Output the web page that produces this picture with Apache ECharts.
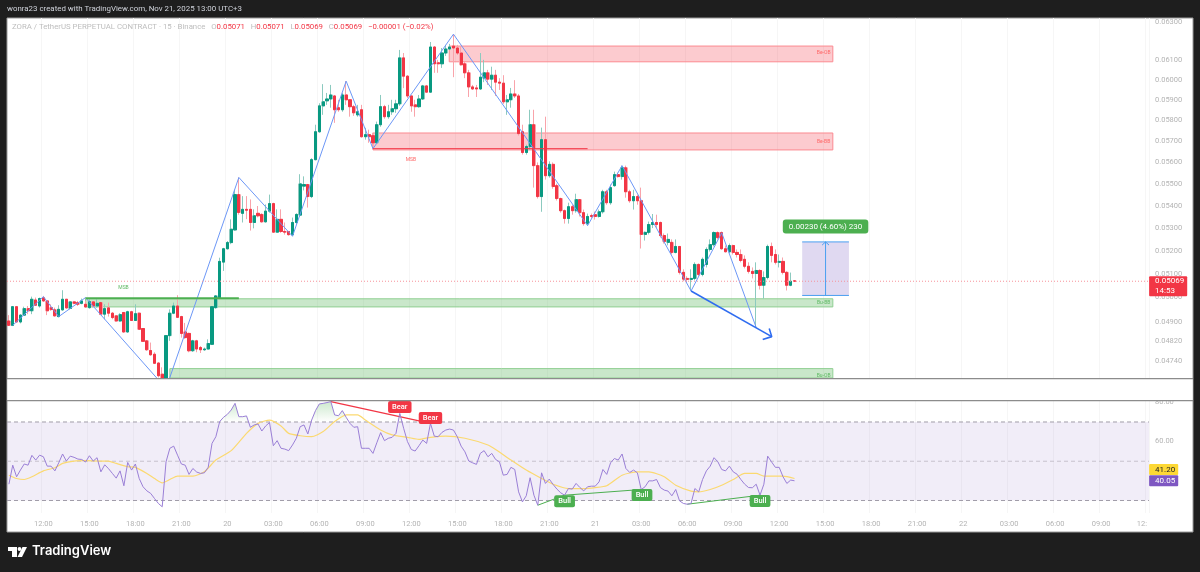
<!DOCTYPE html>
<html>
<head>
<meta charset="utf-8">
<title>ZORA / TetherUS 15m</title>
<script src="https://cdn.jsdelivr.net/npm/echarts@6/dist/echarts.min.js"></script>
<style>
  html, body { margin: 0; padding: 0; background: #1e1e1e; }
  #chart { width: 1200px; height: 572px; }
</style>
</head>
<body>
<div id="chart"></div>
<script>
// prices are kept in ticks (0.00001), the same unit the measure label uses
const tick = 0.00001;

const open = [
  4903,4885,4962,4899,4927,4954,4945,4990,4965,4999,
  4986,4958,4949,4921,4949,4993,4955,4982,4979,4976,
  4972,4958,4982,4965,4979,4931,4957,4935,4924,4903,
  4938,4858,4941,4905,4935,4872,4822,4783,4768,4733,
  4689,4670,4843,4935,4965,4921,4858,4852,4782,4822,
  4795,4786,4789,4808,4958,5000,5151,5209,5236,5292,
  5451,5366,5384,5384,5325,5366,5361,5328,5376,5410,
  5282,5339,5285,5285,5271,5325,5358,5490,5497,5442,
  5613,5746,5872,5897,5906,5921,5863,5853,5926,5902,
  5868,5828,5853,5722,5732,5727,5693,5780,5868,5819,
  5843,5858,5882,6113,6020,5921,5877,5868,5906,5971,
  5940,6169,6088,6083,6138,6159,6174,6164,6138,6083,
  6037,5966,5961,5956,6010,6037,6005,6025,5990,5985,
  5892,5902,5931,5921,5746,5647,5675,5780,5585,5442,
  5708,5538,5591,5492,5433,5378,5343,5396,5378,5428,
  5369,5320,5356,5360,5352,5373,5464,5414,5492,5543,
  5534,5575,5464,5423,5442,5423,5272,5281,5316,5325,
  5325,5267,5237,5237,5193,5219,5107,5081,5077,5081,
  5141,5098,5141,5206,5227,5280,5280,5209,5196,5223,
  5193,5184,5163,5133,5111,5102,5115,5052,5085,5219,
  5184,5150,5154,5107,5052,5071
];
const close = [
  4885,4962,4899,4927,4954,4945,4993,4968,4996,4986,
  4945,4950,4924,4951,4993,4957,4982,4976,4972,4986,
  4961,4983,4965,4976,4931,4954,4935,4917,4903,4929,
  4858,4941,4905,4933,4869,4820,4786,4766,4732,4683,
  4670,4843,4935,4965,4918,4852,4835,4782,4822,4789,
  4786,4789,4811,4962,5007,5154,5209,5236,5295,5451,
  5370,5384,5380,5325,5355,5355,5328,5376,5410,5282,
  5339,5285,5282,5271,5325,5361,5500,5497,5442,5613,
  5746,5872,5892,5906,5926,5853,5853,5926,5902,5868,
  5838,5843,5722,5732,5722,5693,5780,5868,5819,5843,
  5858,5882,6113,6020,5921,5872,5868,5906,5971,5940,
  6169,6083,6083,6138,6159,6169,6164,6138,6078,6037,
  5966,5956,5956,6015,6037,6005,6025,5990,5985,5892,
  5902,5931,5921,5737,5647,5675,5780,5585,5442,5708,
  5538,5591,5488,5433,5378,5343,5396,5378,5428,5369,
  5320,5352,5352,5352,5373,5464,5414,5483,5543,5534,
  5575,5464,5423,5442,5423,5272,5281,5316,5325,5316,
  5267,5241,5250,5193,5219,5107,5078,5077,5081,5141,
  5098,5163,5206,5227,5280,5258,5209,5196,5223,5193,
  5184,5158,5133,5111,5102,5115,5052,5085,5219,5180,
  5150,5154,5107,5052,5069,5069
];
const high = [
  4927,4965,4965,4931,4962,4965,5004,5000,5000,5007,
  4986,4972,4958,4968,5031,4993,4986,4986,4986,4996,
  4986,4996,4986,4993,4982,4972,4979,4940,4927,4935,
  4940,4945,4945,4972,4938,4872,4822,4815,4776,4736,
  4716,4843,4951,4979,5010,4924,4895,4855,4826,4826,
  4801,4795,4828,4965,5010,5170,5213,5243,5339,5473,
  5530,5444,5444,5429,5384,5399,5366,5406,5451,5414,
  5384,5384,5325,5285,5347,5366,5545,5535,5500,5620,
  5780,5885,5980,5936,5976,5926,5902,5936,5995,5902,
  5877,5877,5877,5765,5756,5741,5795,5926,5877,5877,
  5902,5902,6154,6138,6025,5921,5902,5926,5976,5976,
  6195,6174,6103,6164,6180,6185,6236,6180,6169,6093,
  6052,5976,5976,6138,6103,6052,6068,6052,6010,6025,
  5926,5961,6000,5931,5780,5684,5853,5853,5600,5766,
  5819,5605,5600,5501,5437,5383,5414,5405,5455,5428,
  5383,5365,5365,5374,5383,5473,5473,5497,5557,5552,
  5585,5585,5473,5473,5451,5483,5285,5329,5363,5360,
  5329,5276,5276,5250,5250,5219,5120,5090,5120,5150,
  5145,5171,5215,5250,5285,5285,5285,5223,5232,5227,
  5206,5206,5180,5150,5128,5150,5120,5111,5227,5236,
  5206,5184,5171,5111,5106,5071
];
const low = [
  4882,4882,4896,4893,4924,4931,4931,4965,4958,4982,
  4927,4945,4921,4918,4945,4954,4951,4972,4965,4972,
  4958,4954,4958,4958,4927,4910,4921,4910,4899,4899,
  4855,4855,4903,4903,4866,4818,4782,4762,4729,4676,
  4660,4650,4822,4931,4915,4835,4830,4776,4778,4776,
  4773,4782,4787,4805,4954,4993,5113,5206,5229,5289,
  5360,5325,5340,5289,5299,5348,5325,5325,5369,5279,
  5279,5279,5271,5267,5264,5318,5350,5470,5392,5435,
  5610,5741,5828,5877,5863,5789,5843,5843,5877,5819,
  5823,5819,5718,5708,5693,5665,5688,5770,5809,5809,
  5828,5838,5872,5960,5911,5843,5819,5863,5902,5936,
  5936,6037,6037,6062,6123,6154,6015,6128,6073,6010,
  5916,5951,5916,5951,5990,5976,5951,5921,5951,5882,
  5828,5863,5911,5727,5637,5637,5660,5483,5433,5373,
  5520,5529,5478,5424,5369,5320,5320,5360,5369,5352,
  5311,5311,5343,5338,5347,5365,5405,5405,5487,5529,
  5520,5437,5414,5383,5405,5210,5245,5272,5300,5300,
  5258,5232,5224,5184,5189,5098,5069,5064,5028,5073,
  5090,5090,5128,5197,5219,5250,5205,5193,5189,5184,
  5171,5150,5124,5102,5081,4876,5034,4996,5077,5150,
  5141,5128,5098,5030,5048,5069
];

const rsi = [
  38.3,48.0,42.1,45.5,48.6,48.0,53.0,50.6,53.1,52.3,
  47.5,47.5,45.1,49.2,53.7,50.1,52.6,52.0,51.1,50.9,
  49.6,52.8,50.1,51.8,44.6,48.2,46.2,43.8,41.4,45.1,
  37.5,49.4,45.5,48.6,41.2,37.0,34.9,33.6,31.0,28.5,
  26.8,49.7,56.6,57.7,53.1,48.6,48.0,43.3,46.3,44.5,
  43.8,44.1,46.9,59.1,62.5,70.2,72.4,73.9,76.1,79.5,
  72.7,72.7,73.1,67.3,68.5,69.0,65.4,68.0,69.7,57.9,
  60.5,56.6,56.2,55.4,58.3,61.7,67.6,68.5,63.9,71.0,
  75.8,79.2,79.5,79.9,80.4,73.6,73.2,75.8,72.4,69.3,
  67.3,67.6,56.6,56.6,56.6,54.0,59.4,64.6,60.5,61.7,
  62.2,64.2,74.4,66.8,60.0,56.0,55.2,57.9,60.8,59.1,
  69.3,62.8,62.5,64.7,65.9,66.4,65.9,62.5,57.7,54.8,
  50.1,49.2,48.4,54.0,55.4,52.3,54.0,50.9,49.7,42.9,
  43.3,46.9,45.8,34.4,29.3,32.4,41.6,32.7,27.6,44.1,
  38.7,40.9,38.2,35.8,33.9,32.7,36.1,35.8,38.7,36.6,
  34.9,37.0,37.3,37.3,39.5,45.8,43.3,49.2,51.4,50.6,
  53.7,46.3,44.3,45.5,44.1,35.6,37.0,40.0,40.0,40.7,
  36.6,35.3,34.8,32.4,35.6,29.8,28.5,28.1,28.5,36.1,
  34.4,40.7,45.1,47.5,51.8,49.7,45.8,45.1,47.5,44.6,
  43.4,40.7,38.3,36.6,36.5,38.3,32.7,38.3,52.6,49.7,
  46.9,46.9,42.1,38.7,40.4,40.05
];

// RSI moving average, read at the bars where it bends
const rsiMaBars = [
  0,2,4,6,9,12,14,17,20,24,26,28,31,33,36,38,40,42,44,48,51,54,58,62,65,68,71,73,76,79,82,85,88,91,93,97,100,104,
  107,110,114,119,125,127,131,135,139,142,146,150,153,156,160,164,167,171,174,178,180,183,186,189,192,195,197,202,205
];
const rsiMaValues = [
  42.9,41.2,40.7,42.1,45.1,46.7,48.9,50.1,50.3,50.1,50.1,48.9,47.2,46.9,43.8,41.2,39.0,40.7,42.4,42.4,44.6,50.6,55.4,64.2,69.3,71.0,68.0,64.2,63.0,62.5,65.1,70.2,73.6,73.6,71.0,65.9,63.4,62.2,
  61.1,62.2,62.8,61.7,58.3,56.0,50.6,45.5,41.2,38.3,36.1,36.1,36.6,37.5,42.9,44.6,44.6,42.1,37.8,34.8,34.4,35.6,37.8,40.7,43.8,43.8,42.4,42.4,41.2
];

const timeTicks = ['12:00','15:00','18:00','21:00','20','03:00','06:00','09:00','12:00','15:00','18:00','21:00','21','03:00','06:00','09:00','12:00','15:00','18:00','21:00','22','03:00','06:00','09:00','12:'];
const priceTicks = [0.063,0.061,0.06,0.059,0.058,0.057,0.056,0.055,0.054,0.053,0.052,0.051,0.05,0.049,0.0482,0.0474];
const rsiTicks = [60,80];

// swing points: bar, price in ticks
const zigzagBars = [1,9,13,20,41,60,74,88,95,116,151,160,178,186,195];
const zigzagPrices = [4885,5004,4921,5000,4633,5530,5264,5995,5665,6236,5311,5585,5028,5279,4876];

// supply and demand boxes
const zoneNames = ['Be-OB','Be-BB','Bu-BB','Bu-OB'];
const zoneStart = [114.9,95,20,42];
const zoneEnd = [215,215,215,215];
const zoneTop = [6174,5740,4995,4711];
const zoneBottom = [6093,5659,4961,4660];
const zoneLabelPrice = [6138,5700,4980,4684];

const lastPrice = 5069;
const lastMa = 41.20;
const lastRsi = 40.05;
const measureFrom = 5009;
const measureTo = 5239;

const BAR_SLOTS = 298;
const UP = '#089981', DOWN = '#f23645';
const UP_WICK = '#8ccabf', DOWN_WICK = '#f9a3aa';
const TEXT = '#b4b4b4';
const FONT = 'Roboto, sans-serif';

const categories = Array.from({ length: BAR_SLOTS }, (_, i) =>
  (i - 9) % 12 === 0 && i >= 9 ? timeTicks[(i - 9) / 12] : '');

const px = t => t * tick;

function drawBox(params, api) {
  const a = api.coord([api.value(0), api.value(2)]);
  const b = api.coord([api.value(1), api.value(3)]);
  const cs = params.coordSys;
  const shape = echarts.graphic.clipRectByRect(
    { x: a[0], y: a[1], width: b[0] - a[0], height: b[1] - a[1] },
    { x: cs.x, y: cs.y, width: cs.width, height: cs.height });
  return shape && { type: 'rect', shape: shape, style: { fill: api.visual('color'), lineWidth: 1 } };
}

function boxes(rows, fill, stroke, pane) {
  return {
    type: 'custom', renderItem: (p, api) => {
      const el = drawBox(p, api);
      if (el) el.style.stroke = stroke;
      return el;
    },
    xAxisIndex: pane ? 3 : 1, yAxisIndex: pane ? 1 : 0,
    data: rows, clip: true, silent: true, z: 1,
    itemStyle: { color: fill }
  };
}

function polyline(points, color, width, pane, type) {
  return {
    type: 'line', xAxisIndex: pane ? 3 : 1, yAxisIndex: pane ? 1 : 0,
    data: points, symbol: 'none', silent: true, z: 4,
    lineStyle: { color: color, width: width, type: type || 'solid' }
  };
}

// one invisible point that only carries a label
function note(point, text, label, pane) {
  return {
    type: 'scatter', xAxisIndex: pane ? 3 : 1, yAxisIndex: pane ? 1 : 0,
    data: [point], symbolSize: 1, silent: true, z: 6,
    itemStyle: { color: 'transparent', opacity: 1 },
    label: Object.assign({ show: true, position: 'inside', formatter: text, fontFamily: FONT }, label)
  };
}

function badge(bg) {
  return { color: '#fff', fontSize: 7.5, fontWeight: 500, backgroundColor: bg, borderRadius: 2, padding: [2, 4] };
}

const chart = echarts.init(document.getElementById('chart'));

const series = [];

// zones
zoneNames.forEach((name, i) => {
  const bear = i < 2;
  series.push(boxes([[zoneStart[i], zoneEnd[i], px(zoneTop[i]), px(zoneBottom[i])]],
    bear ? 'rgba(242,54,69,0.26)' : 'rgba(76,175,80,0.3)',
    bear ? '#fb8a91' : '#90cf92', false));
});
// measure tool
series.push(boxes([[207, 219.2, px(measureTo), px(measureFrom)]], '#e0d9f1', 'transparent', false));

// wicks, then bodies on top so that the wicks stay pale
series.push({
  type: 'candlestick', xAxisIndex: 0, yAxisIndex: 0, barWidth: 3, z: 2, silent: true,
  data: open.map((o, i) => [px(o), px(close[i]), px(low[i]), px(high[i])]),
  itemStyle: { color: 'transparent', color0: 'transparent', borderColor: UP_WICK, borderColor0: DOWN_WICK, borderWidth: 1 }
});
series.push({
  type: 'candlestick', xAxisIndex: 0, yAxisIndex: 0, barWidth: 2.6, z: 3, silent: true,
  data: open.map((o, i) => [px(o), px(close[i]), px(Math.min(o, close[i])), px(Math.max(o, close[i]))]),
  itemStyle: { color: UP, color0: DOWN, borderColor: UP, borderColor0: DOWN, borderWidth: 1 }
});

series.push(polyline(zigzagBars.map((b, i) => [b, px(zigzagPrices[i])]), '#6c97f6', 1));
series.push(polyline([[20, px(4997)], [60, px(4997)]], '#4caf50', 2));
series.push(polyline([[95, px(5665)], [151, px(5665)]], '#f23645', 1));
series.push(polyline([[178, px(5028)], [199.05, px(4839)]], '#2f6cf0', 1.6));
series.push(polyline([[196.7, px(4827)], [199.05, px(4839)], [198.4, px(4872)]], '#2f6cf0', 1.6));
series.push(polyline([[-0.5, px(lastPrice)], [297.5, px(lastPrice)]], '#f7929a', 1, false, [1, 2]));
series.push(polyline([[207, px(measureTo)], [219.2, px(measureTo)]], '#4a9ff0', 1));
series.push(polyline([[207, px(measureFrom)], [219.2, px(measureFrom)]], '#4a9ff0', 1));
series.push(polyline([[213.1, px(measureFrom)], [213.1, px(measureTo)]], '#4a9ff0', 1));
series.push(polyline([[212.2, px(5225)], [213.1, px(measureTo)], [214, px(5225)]], '#4a9ff0', 1));

// text on the price pane
zoneNames.forEach((name, i) => {
  series.push(note([212.6, px(zoneLabelPrice[i])], name, { color: i < 2 ? '#f66' : '#5db862', fontSize: 5 }));
});
series.push(note([104.9, px(5613)], 'MSB', { color: '#f66', fontSize: 5 }));
series.push(note([29.9, px(5042)], 'MSB', { color: '#5db862', fontSize: 5 }));
series.push(note([213.1, px(5307)], '0.00230 (4.60%) 230', {
  color: '#fff', fontSize: 8, backgroundColor: '#4caf50', borderRadius: 3, padding: [3, 6]
}));
series.push(note([297.4, px(lastPrice)], '0.05069\n14:53', {
  position: 'right', distance: 0, offset: [0, 5], color: '#fff', fontSize: 8, lineHeight: 10,
  backgroundColor: DOWN, padding: [0, 3, 0, 6], borderRadius: 1
}));

// RSI pane
series.push(boxes([[-0.5, 297.5, 70, 30]], 'rgba(126,87,194,0.11)', 'transparent', true));
series.push(polyline([[-0.5, 70], [297.5, 70]], '#a09ca8', 1, true, [4, 3]));
series.push(polyline([[-0.5, 50], [297.5, 50]], '#c6c3cd', 1, true, [4, 3]));
series.push(polyline([[-0.5, 30], [297.5, 30]], '#a09ca8', 1, true, [4, 3]));
series.push({
  type: 'line', xAxisIndex: 2, yAxisIndex: 1, symbol: 'none', silent: true, z: 2,
  data: rsi.map(v => Math.max(v, 70)), lineStyle: { width: 0 },
  areaStyle: {
    origin: 70,
    color: new echarts.graphic.LinearGradient(0, 0, 0, 1, [
      { offset: 0, color: 'rgba(76,175,80,0.4)' }, { offset: 1, color: 'rgba(76,175,80,0)' }
    ])
  }
});
series.push(polyline(rsiMaBars.map((b, i) => [b, rsiMaValues[i]]), '#fbd970', 1.2, true));
series[series.length - 1].smooth = 0.2;
series.push({
  type: 'line', xAxisIndex: 2, yAxisIndex: 1, symbol: 'none', silent: true, z: 5,
  data: rsi, lineStyle: { color: '#9a7fd6', width: 1 }
});
series.push(polyline([[84, 80.4], [110, 69.3]], '#f23645', 1.3, true));
series.push(polyline([[138, 27.6], [145, 32.7], [165, 35.6]], '#4caf50', 1, true));
series.push(polyline([[177, 28.1], [196, 32.7]], '#4caf50', 1, true));
series.push(note([102, 77.6], 'Bear', badge(DOWN), true));
series.push(note([110, 72], 'Bear', badge(DOWN), true));
series.push(note([145, 29.6], 'Bull', badge('#4caf50'), true));
series.push(note([165.2, 32.8], 'Bull', badge('#4caf50'), true));
series.push(note([196, 29.8], 'Bull', badge('#4caf50'), true));
series.push(note([297.4, lastMa], lastMa.toFixed(2), {
  position: 'right', distance: 0, offset: [0, -9], color: '#222', fontSize: 8,
  backgroundColor: '#fdd835', padding: [2, 3, 1, 6], borderRadius: 1
}, true));
series.push(note([297.4, lastRsi], lastRsi.toFixed(2), {
  position: 'right', distance: 0, offset: [0, 0], color: '#fff', fontSize: 8,
  backgroundColor: '#7e57c2', padding: [2, 3, 1, 6], borderRadius: 1
}, true));

const gridLine = { show: true, lineStyle: { color: '#f6f6f6', width: 1 } };
const hidden = { show: false, type: 'value', min: -0.5, max: 297.5 };
const everyTick = (i, v) => v !== '';

const option = {
  animation: false,
  backgroundColor: '#1e1e1e',
  grid: [
    { left: 7, top: 18, width: 1142, height: 360 },
    { left: 7, top: 401, width: 1142, height: 112 }
  ],
  xAxis: [
    { type: 'category', gridIndex: 0, data: categories, axisLabel: { show: false }, axisLine: { show: false }, axisTick: { show: false },
      splitLine: Object.assign({ interval: everyTick }, gridLine) },
    Object.assign({ gridIndex: 0 }, hidden),
    { type: 'category', gridIndex: 1, data: categories, axisLine: { show: false }, axisTick: { show: false },
      splitLine: Object.assign({ interval: everyTick }, gridLine),
      axisLabel: { interval: everyTick, color: TEXT, fontSize: 7.5, fontFamily: FONT, margin: 7, alignMaxLabel: 'right', showMaxLabel: true } },
    Object.assign({ gridIndex: 1 }, hidden)
  ],
  yAxis: [
    { type: 'log', gridIndex: 0, position: 'right', min: 0.04674, max: 0.06321,
      axisLine: { show: false }, axisTick: { show: false }, splitLine: { show: false },
      axisLabel: { customValues: priceTicks, formatter: v => Number(v).toFixed(5), color: TEXT, fontSize: 7.5, fontFamily: FONT, margin: 6 } },
    { type: 'value', gridIndex: 1, position: 'right', min: 23.63, max: 80.7,
      axisLine: { show: false }, axisTick: { show: false }, splitLine: { show: false },
      axisLabel: { customValues: rsiTicks, formatter: v => Number(v).toFixed(2), color: TEXT, fontSize: 7.5, fontFamily: FONT, margin: 6 } }
  ],
  series: series,
  graphic: [
    { type: 'rect', z: -1, silent: true, shape: { x: 7, y: 18, width: 1186, height: 514 }, style: { fill: '#fff', stroke: '#9a9a9a', lineWidth: 1 } },
    { type: 'rect', z: 9, silent: true, shape: { x: 7.5, y: 379, width: 1185, height: 21.5 }, style: { fill: '#fff' } },
    { type: 'rect', z: 10, silent: true, shape: { x: 7, y: 378, width: 1186, height: 1.2 }, style: { fill: '#8c8c8c' } },
    { type: 'rect', z: 10, silent: true, shape: { x: 7, y: 400, width: 1186, height: 1.2 }, style: { fill: '#8c8c8c' } },
    { type: 'text', z: 10, silent: true, x: 7, y: 5, style: { text: 'wonra23 created with TradingView.com, Nov 21, 2025 13:00 UTC+3', fill: '#d1d4dc', font: '7.9px ' + FONT } },
    { type: 'text', z: 10, silent: true, x: 12, y: 23, style: {
      text: 'ZORA / TetherUS PERPETUAL CONTRACT · 15 · Binance   {g|O}{r|0.05071}   {g|H}{r|0.05071}   {g|L}{r|0.05069}   {g|C}{r|0.05069}   {r|−0.00001 (−0.02%)}',
      fill: '#bdbdbd', font: '7.8px ' + FONT,
      rich: { g: { fill: '#bdbdbd', font: '7.8px ' + FONT }, r: { fill: '#f23645', font: '7.8px ' + FONT } }
    } },
    // TradingView logo mark
    { type: 'polygon', z: 10, silent: true, shape: { points: [[8, 547], [17, 547], [17, 557], [12, 557], [12, 551], [8, 551]] }, style: { fill: '#fff' } },
    { type: 'circle', z: 10, silent: true, shape: { cx: 19.5, cy: 549, r: 1.9 }, style: { fill: '#fff' } },
    { type: 'polygon', z: 10, silent: true, shape: { points: [[22.5, 547], [27, 547], [22, 557], [17.5, 557]] }, style: { fill: '#fff' } },
    { type: 'text', z: 10, silent: true, x: 32, y: 545, style: { text: 'TradingView', fill: '#fff', font: '600 13px Inter, ' + FONT } }
  ]
};

chart.setOption(option);
</script>
</body>
</html>
